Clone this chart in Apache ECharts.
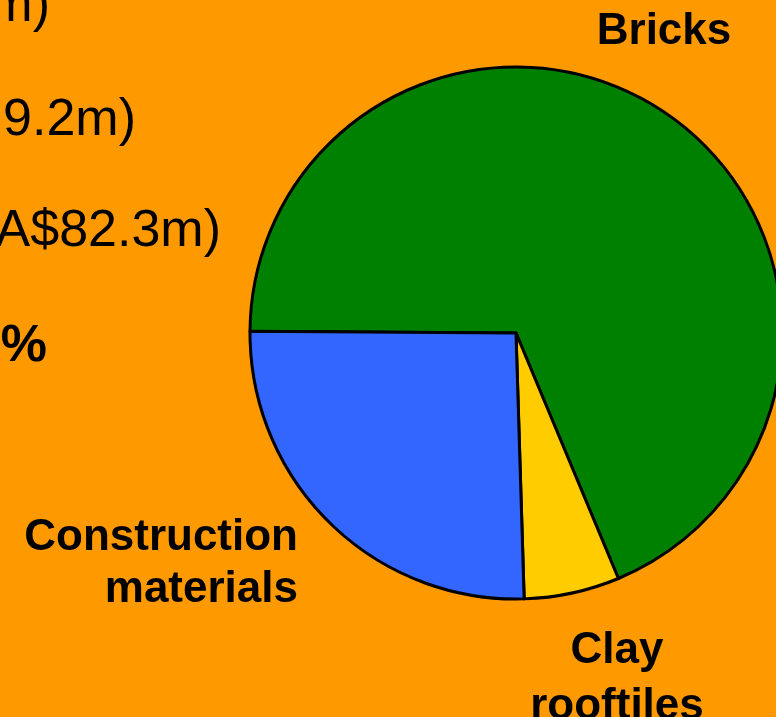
<!DOCTYPE html>
<html>
<head>
<meta charset="utf-8">
<style>
  html, body { margin: 0; padding: 0; background: #FF9900; }
  #main { width: 776px; height: 717px; }
</style>
<script src="https://cdn.jsdelivr.net/npm/echarts@6/dist/echarts.min.js"></script>
</head>
<body>
<div id="main"></div>
<script>
// slices, in clockwise order from the left edge of the pie
const categories = ['Bricks', 'Clay\nrooftiles', 'Construction\nmaterials'];
const shares = [68.6, 5.8, 25.6];
const sliceColors = ['#008000', '#FFCC00', '#3366FF'];

// fragments of the slide text, cut by the left edge
const sideText = ['m)', '9.2m)', 'A$82.3m)', '%'];

// where each slice's label sits
const labelSpots = [
  { x: 664, y: 32, align: 'center' },
  { x: 617, y: 679, align: 'center' },
  { x: 298, y: 564, align: 'right' }
];
const labelLineHeights = [52, 56, 52];

const sideRight = [50, 136, 221, 47];
const sideY = [7, 121, 232, 347];

let myChart = echarts.init(document.getElementById('main'));

myChart.setOption({
  backgroundColor: '#FF9900',
  animation: false,
  graphic: sideText.map((t, i) => ({
    type: 'text',
    x: sideRight[i],
    y: sideY[i],
    style: {
      text: t,
      fill: '#000',
      font: (i === 3 ? 'bold ' : '') + '52px "Liberation Sans", Arial, sans-serif',
      align: 'right',
      verticalAlign: 'middle'
    }
  })),
  series: [
    {
      type: 'pie',
      center: [516, 333],
      radius: 266,
      startAngle: 179.6,
      clockwise: true,
      silent: true,
      itemStyle: { borderColor: '#000', borderWidth: 3 },
      label: {
        show: true,
        position: 'outside',
        formatter: '{b}',
        color: '#000',
        fontFamily: '"Liberation Sans", Arial, sans-serif',
        fontWeight: 'bold',
        fontSize: 44,
        overflow: 'none'
      },
      labelLine: { show: false },
      labelLayout: function (params) {
        const s = labelSpots[params.dataIndex];
        return { x: s.x, y: s.y, align: s.align, verticalAlign: 'middle' };
      },
      data: categories.map((c, i) => ({
        name: c,
        value: shares[i],
        itemStyle: { color: sliceColors[i] },
        label: { lineHeight: labelLineHeights[i], align: labelSpots[i].align }
      }))
    }
  ]
});
</script>
</body>
</html>
